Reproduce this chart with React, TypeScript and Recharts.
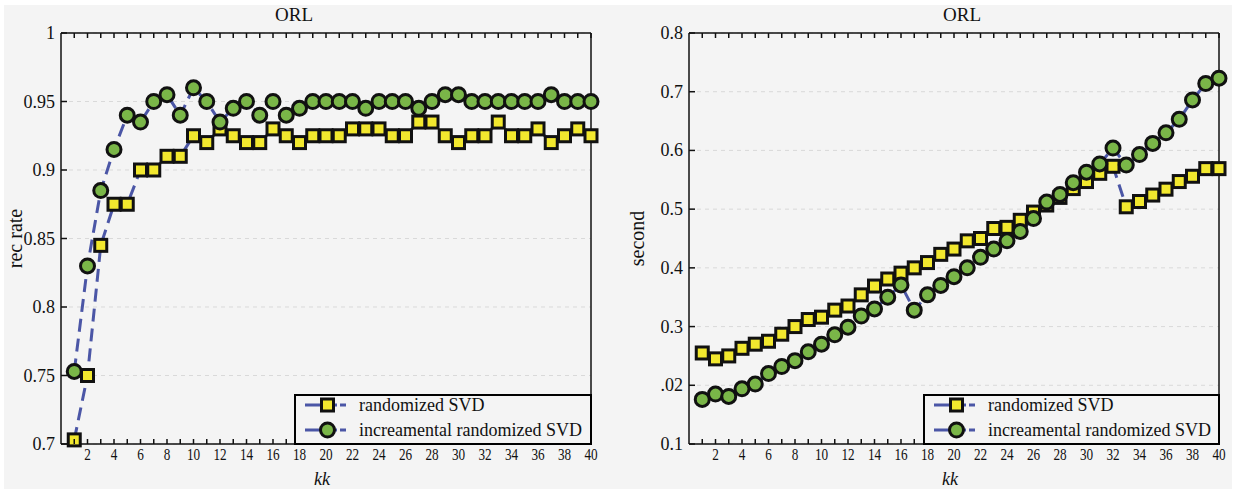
import React from 'react';
import { LineChart, Line, XAxis, YAxis, CartesianGrid, Legend } from 'recharts';

const kValues = [1,2,3,4,5,6,7,8,9,10,11,12,13,14,15,16,17,18,19,20,21,22,23,24,25,26,27,28,29,30,31,32,33,34,35,36,37,38,39,40];

const leftRandomized = [0.703,0.75,0.845,0.875,0.875,0.9,0.9,0.91,0.91,0.925,0.92,0.93,0.925,0.92,0.92,0.93,0.925,0.92,0.925,0.925,0.925,0.93,0.93,0.93,0.925,0.925,0.935,0.935,0.925,0.92,0.925,0.925,0.935,0.925,0.925,0.93,0.92,0.925,0.93,0.925];
const leftIncremental = [0.753,0.83,0.885,0.915,0.94,0.935,0.95,0.955,0.94,0.96,0.95,0.935,0.945,0.95,0.94,0.95,0.94,0.945,0.95,0.95,0.95,0.95,0.945,0.95,0.95,0.95,0.945,0.95,0.955,0.955,0.95,0.95,0.95,0.95,0.95,0.95,0.955,0.95,0.95,0.95];

const rightRandomized = [0.255,0.245,0.25,0.263,0.27,0.275,0.287,0.3,0.312,0.316,0.328,0.335,0.354,0.369,0.381,0.391,0.4,0.409,0.423,0.432,0.446,0.45,0.467,0.469,0.481,0.495,0.507,0.52,0.535,0.547,0.561,0.573,0.504,0.513,0.524,0.534,0.547,0.556,0.569,0.569];
const rightIncremental = [0.176,0.185,0.181,0.194,0.202,0.22,0.232,0.242,0.257,0.27,0.286,0.299,0.318,0.33,0.35,0.371,0.328,0.354,0.37,0.385,0.4,0.418,0.432,0.446,0.462,0.484,0.512,0.525,0.545,0.563,0.577,0.604,0.575,0.593,0.612,0.63,0.653,0.686,0.714,0.723];

const leftYTicks = [0.7,0.75,0.8,0.85,0.9,0.95,1];
const leftYTickLabels = ['0.7','0.75','0.8','0.85','0.9','0.95','1'];
const rightYTicks = [0.1,0.2,0.3,0.4,0.5,0.6,0.7,0.8];
const rightYTickLabels = ['0.1','.02','0.3','0.4','0.5','0.6','0.7','0.8'];

const seriesNames = ['randomized SVD', 'increamental randomized SVD'];
const chartTitle = 'ORL';
const xAxisTitle = 'kk';
const leftYTitle = 'rec rate';
const rightYTitle = 'second';

const leftData = kValues.map((k, i) => ({ k, rsvd: leftRandomized[i], irsvd: leftIncremental[i] }));
const rightData = kValues.map((k, i) => ({ k, rsvd: rightRandomized[i], irsvd: rightIncremental[i] }));

const FONT = '"Liberation Serif", "Times New Roman", serif';
const LINE_COLOR = '#4b56a6';
const YELLOW = '#f2e82e';
const GREEN = '#7ab648';
const INK = '#111';

const SquareDot = (p: any) => {
  if (p.cx == null || p.cy == null) return <g key={`sq-${p.index}`} />;
  return <rect key={`sq-${p.index}`} x={p.cx - 6} y={p.cy - 6} width={12} height={12} fill={YELLOW} stroke={INK} strokeWidth={3} />;
};
const CircleDot = (p: any) => {
  if (p.cx == null || p.cy == null) return <g key={`ci-${p.index}`} />;
  return <circle key={`ci-${p.index}`} cx={p.cx} cy={p.cy} r={7} fill={GREEN} stroke={INK} strokeWidth={3} />;
};

const XBottomTick = (props: any) => {
  const { x, y, payload } = props;
  const v = payload.value;
  const s = String(v);
  return (
    <g>
      <line x1={x} x2={x} y1={y} y2={y - 5} stroke={INK} strokeWidth={1.5} />
      {v % 2 === 0 && (
        <text x={x} y={y + 16} textAnchor="middle" fontSize={16} fill={INK} fontFamily={FONT}
          textLength={s.length * 6.6} lengthAdjust="spacingAndGlyphs">{s}</text>
      )}
    </g>
  );
};

const XTopTick = (props: any) => {
  const { x, y } = props;
  return <line x1={x} x2={x} y1={y} y2={y + 5} stroke={INK} strokeWidth={1.5} />;
};

const makeYLeftTick = (ticks: number[], labels: string[]) => (props: any) => {
  const { x, y, payload } = props;
  const idx = ticks.findIndex((t) => Math.abs(t - payload.value) < 1e-9);
  const label = idx >= 0 ? labels[idx] : String(payload.value);
  return (
    <g>
      <line x1={x} x2={x + 6} y1={y} y2={y} stroke={INK} strokeWidth={1.5} />
      <text x={x - 6} y={y} dy={6} textAnchor="end" fontSize={18} fill={INK} fontFamily={FONT}>{label}</text>
    </g>
  );
};

const YRightTick = (props: any) => {
  const { x, y } = props;
  return <line x1={x} x2={x - 6} y1={y} y2={y} stroke={INK} strokeWidth={1.5} />;
};

const LegendBox = ({ w, h }: { w: number; h: number }) => (
  <div style={{ width: w, height: h, boxSizing: 'border-box', border: '2px solid #000', background: '#f4f4f4', position: 'relative' }}>
    <svg width={w - 4} height={h - 4} style={{ position: 'absolute', left: 0, top: 0 }}>
      {[0, 1].map((i) => {
        const cy = i === 0 ? 9 : 34;
        return (
          <g key={i}>
            <line x1={9} x2={41} y1={cy} y2={cy} stroke={LINE_COLOR} strokeWidth={3} />
            <line x1={44} x2={50} y1={cy} y2={cy} stroke={LINE_COLOR} strokeWidth={3} />
            {i === 0 ? (
              <rect x={25.5} y={cy - 6} width={12} height={12} fill={YELLOW} stroke={INK} strokeWidth={3} />
            ) : (
              <circle cx={31.5} cy={cy} r={7} fill={GREEN} stroke={INK} strokeWidth={3} />
            )}
            <text x={63} y={cy} dy={6} fontSize={18} fill={INK} fontFamily={FONT}>{seriesNames[i]}</text>
          </g>
        );
      })}
    </svg>
  </div>
);

type PanelProps = {
  width: number;
  data: any[];
  margin: { top: number; right: number; bottom: number; left: number };
  yDomain: [number, number];
  yTicks: number[];
  yTickLabels: string[];
  yTitle: string;
  yTitleX: number;
  legend: { left: number; top: number; width: number; height: number };
};

const Panel = ({ width, data, margin, yDomain, yTicks, yTickLabels, yTitle, yTitleX, legend }: PanelProps) => (
  <LineChart width={width} height={489} data={data} margin={margin}>
    <CartesianGrid vertical={false} stroke="#d9d9d9" strokeDasharray="4 4" />
    <XAxis
      dataKey="k"
      type="number"
      domain={[0, 40]}
      ticks={kValues}
      interval={0}
      tickSize={0}
      tickMargin={0}
      tickLine={false}
      tick={XBottomTick}
      axisLine={{ stroke: INK, strokeWidth: 1.5 }}
      height={30}
      label={(lp: any) => {
        const vb = lp.viewBox || {};
        return (
          <text x={vb.x + vb.width / 2 - 4} y={vb.y + 41} textAnchor="middle" fontSize={18} fontStyle="italic" fill={INK} fontFamily={FONT}>{xAxisTitle}</text>
        );
      }}
    />
    <XAxis
      xAxisId="top"
      orientation="top"
      dataKey="k"
      type="number"
      domain={[0, 40]}
      ticks={kValues}
      interval={0}
      tickSize={0}
      tickMargin={0}
      tickLine={false}
      tick={XTopTick}
      axisLine={{ stroke: INK, strokeWidth: 1.5 }}
      height={1}
    />
    <YAxis
      type="number"
      domain={yDomain}
      ticks={yTicks}
      interval={0}
      tickSize={0}
      tickMargin={0}
      tickLine={false}
      tick={makeYLeftTick(yTicks, yTickLabels)}
      axisLine={{ stroke: INK, strokeWidth: 1.5 }}
      width={55}
      label={(lp: any) => {
        const vb = lp.viewBox || {};
        const cy = vb.y + vb.height / 2;
        return (
          <text x={yTitleX} y={cy} transform={`rotate(-90, ${yTitleX}, ${cy})`} textAnchor="middle" dominantBaseline="central" fontSize={20} fill={INK} fontFamily={FONT}>{yTitle}</text>
        );
      }}
    />
    <YAxis
      yAxisId="r"
      orientation="right"
      type="number"
      domain={yDomain}
      ticks={yTicks}
      interval={0}
      tickSize={0}
      tickMargin={0}
      tickLine={false}
      tick={YRightTick}
      axisLine={{ stroke: INK, strokeWidth: 1.5 }}
      width={1}
    />
    <Legend
      layout="horizontal"
      verticalAlign="middle"
      align="center"
      wrapperStyle={{ left: legend.left, top: legend.top, width: legend.width, height: legend.height }}
      content={() => <LegendBox w={legend.width} h={legend.height} />}
    />
    <Line dataKey="rsvd" name={seriesNames[0]} stroke={LINE_COLOR} strokeWidth={3} strokeDasharray="13 7" dot={SquareDot} activeDot={false} isAnimationActive={false} />
    <Line dataKey="irsvd" name={seriesNames[1]} stroke={LINE_COLOR} strokeWidth={3} strokeDasharray="13 7" dot={CircleDot} activeDot={false} isAnimationActive={false} />
  </LineChart>
);

export default function App() {
  return (
    <div style={{ position: 'absolute', left: 0, top: 0, width: 1242, height: 489, background: '#fff', fontFamily: FONT, overflow: 'hidden' }}>
      <div style={{ position: 'absolute', left: 4, top: 5, width: 1228, height: 484, background: '#f4f4f4' }} />
      <div style={{ position: 'absolute', left: 0, top: 0 }}>
        <Panel
          width={620}
          data={leftData}
          margin={{ top: 32, right: 28, bottom: 15, left: 6 }}
          yDomain={[0.7, 1]}
          yTicks={leftYTicks}
          yTickLabels={leftYTickLabels}
          yTitle={leftYTitle}
          yTitleX={15}
          legend={{ left: 294, top: 394, width: 298, height: 51 }}
        />
      </div>
      <div style={{ position: 'absolute', left: 620, top: 0 }}>
        <Panel
          width={622}
          data={rightData}
          margin={{ top: 32, right: 22, bottom: 15, left: 14 }}
          yDomain={[0.1, 0.8]}
          yTicks={rightYTicks}
          yTickLabels={rightYTickLabels}
          yTitle={rightYTitle}
          yTitleX={17}
          legend={{ left: 303, top: 394, width: 297, height: 51 }}
        />
      </div>
      <div style={{ position: 'absolute', left: 294, top: 4, transform: 'translateX(-50%)', fontSize: 19, color: INK, lineHeight: '22px' }}>{chartTitle}</div>
      <div style={{ position: 'absolute', left: 962, top: 4, transform: 'translateX(-50%)', fontSize: 19, color: INK, lineHeight: '22px' }}>{chartTitle}</div>
    </div>
  );
}
